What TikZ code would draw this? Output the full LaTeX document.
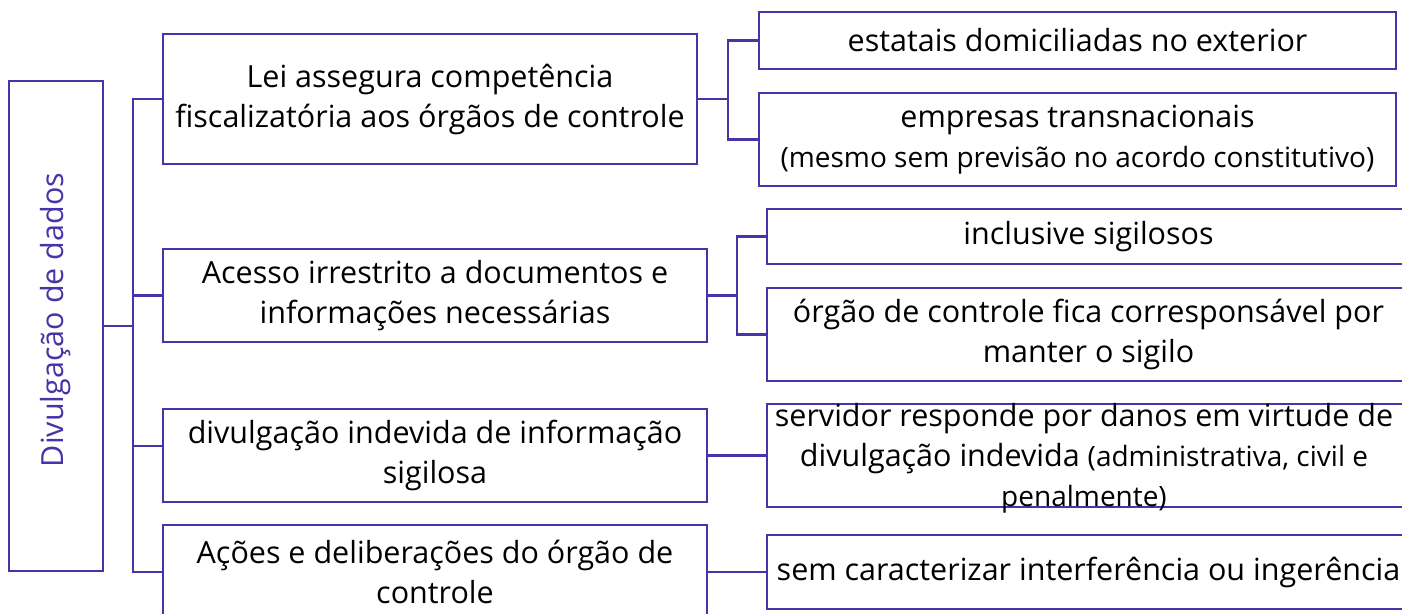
\documentclass[tikz,border=0pt]{standalone}
\usepackage{fontspec}
\setmainfont{Open Sans}
\usepackage{graphicx}
\usetikzlibrary{calc}
\definecolor{pcol}{RGB}{70,52,168}
\newcommand{\bigfs}{\fontsize{30.5}{40}\selectfont}
\newcommand{\smallfs}{\fontsize{28}{40}\selectfont}
\tikzset{
  box/.style={draw=pcol, line width=2.6pt, inner sep=0pt, outer sep=0pt, align=center, font=\bigfs, text=black},
  conn/.style={draw=pcol, line width=2.6pt},
}
\begin{document}
\begin{tikzpicture}[x=1pt,y=-1pt]
\useasboundingbox (0,0) rectangle (1402,613);
% root
\node[box, minimum width=94pt, minimum height=490pt] (L) at (56,326)
  {\rotatebox{90}{\hspace*{12pt}\color{pcol}Divulgação de dados}};
% level 1
\node[box, minimum width=534pt, minimum height=130pt] (B1) at (430,99)
  {Lei assegura competência\\fiscalizatória aos órgãos de controle};
\node[box, minimum width=544pt, minimum height=93pt] (B2) at (435,295.5)
  {Acesso irrestrito a documentos e\\informações necessárias};
\node[box, minimum width=544pt, minimum height=93pt] (B3) at (435,455.5)
  {divulgação indevida de informação\\sigilosa};
\node[box, minimum width=544pt, minimum height=94pt] (B4) at (435,572)
  {Ações e deliberações do órgão de\\controle};
% level 2
\node[box, minimum width=637pt, minimum height=57pt] (A) at (1077.5,40.5)
  {estatais domiciliadas no exterior};
\node[box, minimum width=637pt, minimum height=93pt] (Bb) at (1077.5,139.5)
  {empresas transnacionais\\{\smallfs(mesmo sem previsão no acordo constitutivo)}};
\node[box, minimum width=643pt, minimum height=55pt] (C) at (1088.5,236.5)
  {inclusive sigilosos};
\node[box, minimum width=643pt, minimum height=93pt] (D) at (1088.5,334.5)
  {órgão de controle fica corresponsável por\\manter o sigilo};
\node[box, minimum width=643pt, minimum height=103pt] (E) at (1088.5,455.5) {};
\node[font=\bigfs, align=center, inner sep=0pt] (Et) at (1084,458)
  {servidor responde por danos em virtude de\\divulgação indevida {\smallfs(administrativa, civil e}\\{\smallfs penalmente)}};
\node[box, minimum width=643pt, minimum height=74pt] (F) at (1088.5,572)
  {sem caracterizar interferência ou ingerência};
% trunk
\coordinate (T) at (133,326);
\draw[conn] (L.east) -- (T);
\draw[conn] (B1.west) -- (B1.west -| T) -- (B4.west -| T) -- (B4.west);
\draw[conn] (B2.west -| T) -- (B2.west);
\coordinate (B3in) at ($(B3.west)+(0,-9.5)$);
\draw[conn] (B3in -| T) -- (B3in);
% sub-trunks
\coordinate (S1) at (728,99);
\draw[conn] (B1.east) -- (S1);
\draw[conn] (A.west) -- (A.west -| S1) -- (Bb.west -| S1) -- (Bb.west);
\coordinate (S2) at (737,295.5);
\draw[conn] (B2.east) -- (S2);
\draw[conn] (C.west) -- (C.west -| S2) -- (D.west -| S2) -- (D.west);
\draw[conn] (B3.east) -- (E.west);
\draw[conn] (B4.east) -- (F.west);
\end{tikzpicture}
\end{document}
